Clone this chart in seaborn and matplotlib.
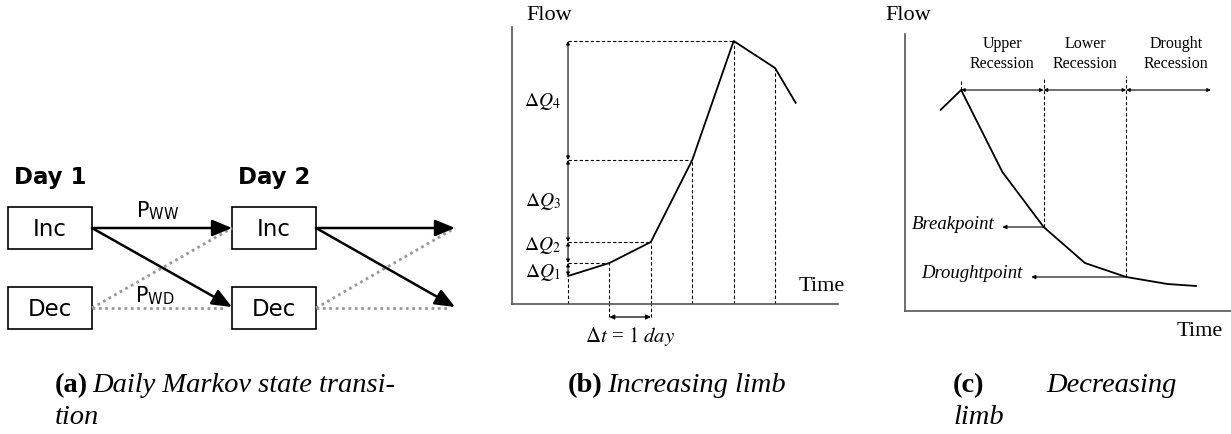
import matplotlib
matplotlib.use("Agg")
import matplotlib.pyplot as plt
import seaborn as sns
import pandas as pd
from matplotlib.patches import Rectangle

# ---------------- data ----------------
# (a) Markov state transition
state_names = ["Inc", "Dec"]
day_names = ["Day 1", "Day 2"]
prob_labels = [r"P$_{\mathregular{WW}}$", r"P$_{\mathregular{WD}}$"]

# (b) increasing limb hydrograph
rise_days = [1, 2, 3, 4, 5, 6, 6.5]
rise_flow = [28, 41, 62, 144, 263, 236, 201]
dq_labels = [r"$\Delta Q_1$", r"$\Delta Q_2$", r"$\Delta Q_3$", r"$\Delta Q_4$"]

# (c) decreasing limb hydrograph
fall_days = [-0.5, 0, 1, 2, 3, 4, 5, 5.7]
fall_flow = [201, 221, 139, 84, 48, 34, 27, 25]
segment_names = ["Upper\nRecession", "Lower\nRecession", "Drought\nRecession"]
segment_bounds = [0, 2, 4, 6.05]
breakpoint_day = 2
droughtpoint_day = 4

captions = [
    ("(a)", "Daily Markov state transi-", "tion"),
    ("(b)", "Increasing limb", ""),
    ("(c)", "Decreasing", "limb"),
]

# ---------------- style ----------------
sns.set_theme(style="white")
plt.rcParams["font.family"] = ["Liberation Serif", "DejaVu Serif"]
plt.rcParams["mathtext.fontset"] = "stix"
plt.rcParams["text.color"] = "black"

W, H = 1231, 435
fig = plt.figure(figsize=(W / 100, H / 100), dpi=100)
fig.patch.set_facecolor("white")

# overlay in pixel coordinates (panel a + captions)
ov = fig.add_axes([0, 0, 1, 1])
ov.set_xlim(0, W)
ov.set_ylim(H, 0)
ov.axis("off")

sans = ["DejaVu Sans"]
box_w, box_h = 84, 42
col_x = [8, 232]
row_y = [208, 288]
for ci, dname in enumerate(day_names):
    ov.text(col_x[ci] + box_w / 2, 178, dname, ha="center", va="center",
            fontsize=16.5, fontweight="bold", family=sans, color="black")
    for ri, sname in enumerate(state_names):
        ov.add_patch(Rectangle((col_x[ci], row_y[ri]), box_w, box_h,
                               fill=False, ec="black", lw=1.2))
        ov.text(col_x[ci] + box_w / 2, row_y[ri] + box_h / 2 + 1, sname,
                ha="center", va="center", fontsize=16.5, family=sans, color="black")

arrow_end_x = [col_x[1], 455]
for ci in range(2):
    x0 = col_x[ci] + box_w
    x1 = arrow_end_x[ci]
    yi = row_y[0] + box_h / 2
    yd = row_y[1] + box_h / 2
    # dotted (from Dec)
    ov.plot([x0, x1], [yd, yi], ls=(0, (1, 1.3)), color="#999999", lw=2.0)
    ov.plot([x0, x1 - 6], [yd, yd], ls=(0, (1, 1.3)), color="#999999", lw=2.0)
    # solid arrows (from Inc)
    for yt in (yi, yd - 1):
        ov.annotate("", xy=(x1, yt), xytext=(x0, yi),
                    arrowprops=dict(arrowstyle="-|>,head_length=0.6,head_width=0.25",
                                    color="black", lw=1.8,
                                    mutation_scale=20, shrinkA=0, shrinkB=0))
ov.text(158, 211, prob_labels[0], ha="center", va="center", fontsize=15, family=sans)
ov.text(155, 296, prob_labels[1], ha="center", va="center", fontsize=15, family=sans)

# captions
cap_font = ["Liberation Serif"]
cap_fs = 20.5
cap_pos = [(55, 1), (568, 0), (953, 2)]
for (lab, line1, line2), (cx, kind) in zip(captions, cap_pos):
    ov.text(cx, 386, lab, ha="left", va="center", fontsize=cap_fs,
            fontweight="bold", family=cap_font)
    if kind == 2:
        ov.text(1177, 386, line1, ha="right", va="center", fontsize=cap_fs,
                style="italic", family=cap_font)
    else:
        ov.text(cx + (37 if lab == "(a)" else 39), 386, line1, ha="left", va="center",
                fontsize=cap_fs, style="italic", family=cap_font)
    if line2:
        ov.text(cx, 418, line2, ha="left", va="center", fontsize=cap_fs,
                style="italic", family=cap_font)

axis_col = "#555555"
dash = (0, (3, 2))


def make_axes(left, right, top, bottom):
    ax = fig.add_axes([left / W, (H - bottom) / H, (right - left) / W, (bottom - top) / H])
    ax.patch.set_alpha(0)
    for s in ("top", "right"):
        ax.spines[s].set_visible(False)
    for s in ("left", "bottom"):
        ax.spines[s].set_color(axis_col)
        ax.spines[s].set_linewidth(1.2)
    ax.set_xticks([])
    ax.set_yticks([])
    return ax


# ---------------- panel (b) ----------------
axb = make_axes(512, 838, 28, 305)
df_b = pd.DataFrame({"day": rise_days, "flow": rise_flow})
sns.lineplot(data=df_b, x="day", y="flow", ax=axb, color="black", lw=1.3, sort=False)
axb.set_xlim(-0.353, 7.52)
axb.set_ylim(0, 277)
axb.set_xlabel("")
axb.set_ylabel("")
x_ref = rise_days[0]
axb.vlines(rise_days[:-1], 0, rise_flow[:-1], colors="black", linestyles=dash, lw=0.8)
axb.hlines(rise_flow[1:5], x_ref, rise_days[1:5], colors="black", linestyles=dash, lw=0.8)
label_shift = [-2, 8, 0, 0]
for i in range(4):
    axb.annotate("", xy=(x_ref, rise_flow[i + 1]), xytext=(x_ref, rise_flow[i]),
                 arrowprops=dict(arrowstyle="<|-|>", color="black", lw=0.8,
                                 mutation_scale=5, shrinkA=0, shrinkB=0))
    mid = (rise_flow[i] + rise_flow[i + 1]) / 2 + label_shift[i]
    axb.text(x_ref - 0.18, mid, dq_labels[i], ha="right", va="center", fontsize=14)
# delta t
dt_y = -13
axb.vlines([rise_days[1], rise_days[2]], dt_y, 0, colors="black", linestyles=dash,
           lw=0.8, clip_on=False)
axb.annotate("", xy=(rise_days[2], dt_y), xytext=(rise_days[1], dt_y),
             annotation_clip=False,
             arrowprops=dict(arrowstyle="<|-|>", color="black", lw=0.9,
                             mutation_scale=7, shrinkA=0, shrinkB=0))
axb.text((rise_days[1] + rise_days[2]) / 2, -32, r"$\Delta t$ = $\mathit{1\ day}$",
         ha="center", va="center", fontsize=15, clip_on=False)
axb.text(-0.01, 290, "Flow", ha="left", va="center", fontsize=16, clip_on=False)
axb.text(7.69, 18, "Time", ha="right", va="center", fontsize=16, clip_on=False)

# ---------------- panel (c) ----------------
axc = make_axes(905, 1231, 35, 312)
df_c = pd.DataFrame({"day": fall_days, "flow": fall_flow})
sns.lineplot(data=df_c, x="day", y="flow", ax=axc, color="black", lw=1.3, sort=False)
axc.set_xlim(-1.36, 6.54)
axc.set_ylim(0, 277)
axc.set_xlabel("")
axc.set_ylabel("")
peak = fall_flow[1]
bp_flow = fall_flow[fall_days.index(breakpoint_day)]
dp_flow = fall_flow[fall_days.index(droughtpoint_day)]
axc.vlines([segment_bounds[0]], peak, peak + 9, colors="black", linestyles=dash, lw=0.8)
axc.vlines([segment_bounds[1]], bp_flow, peak + 12, colors="black", linestyles=dash, lw=0.8)
axc.vlines([segment_bounds[2]], dp_flow, peak + 14, colors="black", linestyles=dash, lw=0.8)
for i in range(3):
    axc.annotate("", xy=(segment_bounds[i + 1], peak), xytext=(segment_bounds[i], peak),
                 annotation_clip=False,
                 arrowprops=dict(arrowstyle="<|-|>", color="black", lw=0.8,
                                 mutation_scale=5, shrinkA=0, shrinkB=0))
    cx = (segment_bounds[i] + segment_bounds[i + 1]) / 2
    if i == 2:
        cx = 5.2
    axc.text(cx, 258, segment_names[i], ha="center", va="center", fontsize=11.5,
             linespacing=1.3, clip_on=False)
axc.annotate("", xy=(1.0, bp_flow), xytext=(breakpoint_day, bp_flow),
             arrowprops=dict(arrowstyle="-|>", color="black", lw=0.8,
                             mutation_scale=6, shrinkA=0, shrinkB=0))
axc.text(0.82, bp_flow + 3, "Breakpoint", ha="right", va="center", fontsize=13.5,
         style="italic")
axc.annotate("", xy=(1.7, dp_flow), xytext=(droughtpoint_day, dp_flow),
             arrowprops=dict(arrowstyle="-|>", color="black", lw=0.8,
                             mutation_scale=6, shrinkA=0, shrinkB=0))
axc.text(1.48, dp_flow + 4, "Droughtpoint", ha="right", va="center", fontsize=13.5,
         style="italic")
axc.text(-1.84, 297, "Flow", ha="left", va="center", fontsize=16, clip_on=False)
axc.text(6.34, -20, "Time", ha="right", va="center", fontsize=16, clip_on=False)

fig.savefig("out.png", dpi=100, facecolor="white")
